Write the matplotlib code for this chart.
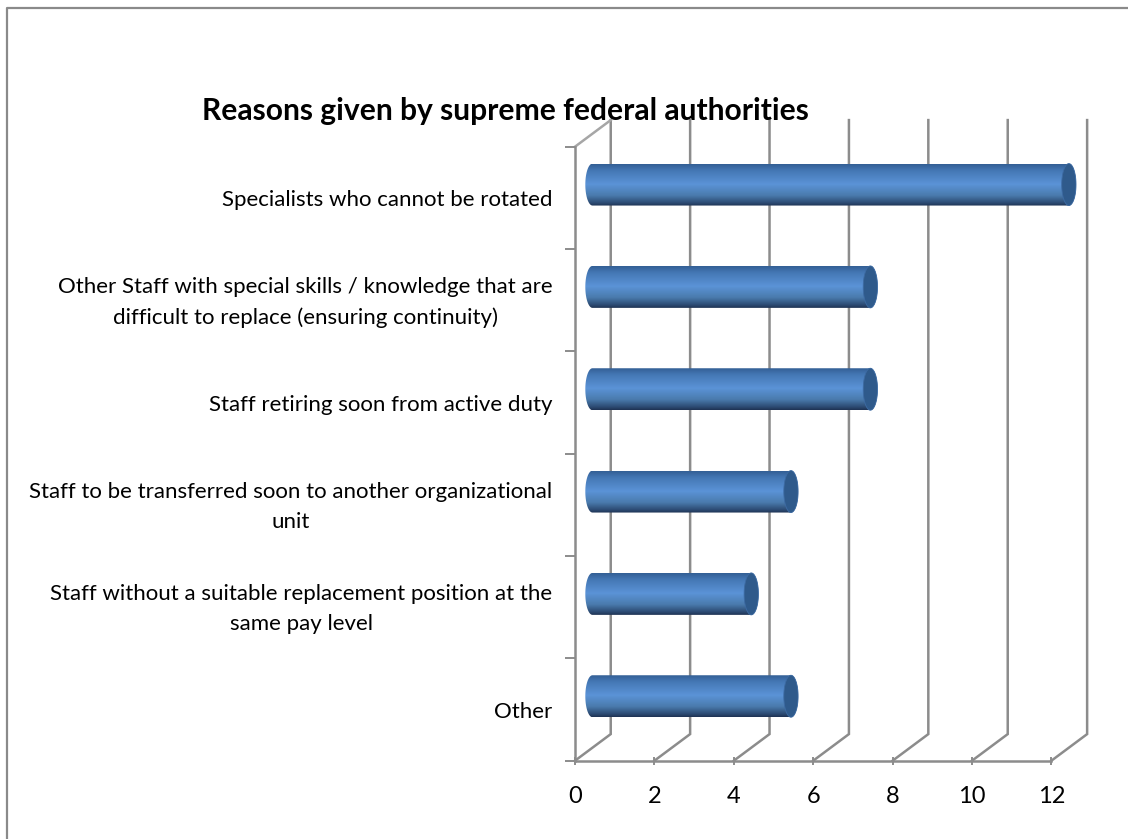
import numpy as np
import matplotlib
matplotlib.use("Agg")
import matplotlib.pyplot as plt
from matplotlib.colors import LinearSegmentedColormap
from matplotlib.patches import Polygon

W, H = 1128, 839

title = "Reasons given by supreme federal authorities"
categories = [
    "Specialists who cannot be rotated",
    "Other Staff with special skills / knowledge that are\ndifficult to replace (ensuring continuity)",
    "Staff retiring soon from active duty",
    "Staff to be transferred soon to another organizational\nunit",
    "Staff without a suitable replacement position at the\nsame pay level",
    "Other",
]
values = [12, 7, 7, 5, 4, 5]
xticks = [0, 2, 4, 6, 8, 10, 12]

GRID = "#8c8c8c"
# floor depth of the pseudo-3D box, in data units
DEPTH_X = 0.90
DEPTH_Y = 0.26
CAP_W = 0.18
BAR_H = 0.41

plt.rcParams["font.family"] = ["Lato", "DejaVu Sans"]

fig = plt.figure(figsize=(W / 100, H / 100), dpi=100)

# chart frame is open on the right and at the bottom edge of the page
frame_x = [6.5 / W, 6.5 / W, 1 + 2 / W]
frame_y = [0 - 2 / H, 1 - 8 / H, 1 - 8 / H]
fig.add_artist(plt.Line2D(frame_x, frame_y, color="#8a8a8a", lw=1.6, transform=fig.transFigure))

ax = fig.add_axes([575 / W, 1 - 760.7 / H, 476.4 / W, 614 / H])
ax.patch.set_alpha(0)
for s in ["top", "right"]:
    ax.spines[s].set_visible(False)
for s in ["left", "bottom"]:
    ax.spines[s].set_color(GRID)
    ax.spines[s].set_linewidth(1.8)

ax.set_xticks(xticks)
ax.set_yticks(range(7))
ax.set_yticklabels([])
ax.tick_params(axis="x", length=6, width=1.4, color=GRID, labelsize=17, pad=15, direction="inout")
ax.tick_params(axis="y", length=7, width=1.4, color=GRID, direction="out")

# back wall gridlines and their floor returns
for t in xticks:
    ax.plot([t, t + DEPTH_X, t + DEPTH_X], [6, 6 - DEPTH_Y, -DEPTH_Y], color=GRID, lw=1.8,
            clip_on=False, zorder=1, solid_joinstyle="miter")
ax.plot([0, DEPTH_X], [0, -DEPTH_Y], color="#a6a6a6", lw=1.8, clip_on=False, zorder=1)

body = LinearSegmentedColormap.from_list("bar", [
    (0.0, "#335f95"), (0.15, "#4477b4"), (0.48, "#5b93d7"),
    (0.75, "#4a7bad"), (0.93, "#2c4a72"), (1.0, "#1f3354"),
])
gradient = np.linspace(0, 1, 128).reshape(-1, 1)
theta = np.linspace(-np.pi / 2, np.pi / 2, 40)

for i, v in enumerate(values):
    yc = i + 0.5 - DEPTH_Y / 2
    x0 = DEPTH_X / 2 - 0.01
    x1 = x0 + v
    # cylinder outline: rounded at the far end, bulging at the near end
    right_x = x1 + CAP_W * np.cos(theta)
    right_y = yc + BAR_H / 2 * np.sin(theta)
    left_x = x0 - CAP_W * np.cos(theta[::-1])
    left_y = yc + BAR_H / 2 * np.sin(theta[::-1])
    outline = np.column_stack([np.r_[right_x, left_x], np.r_[right_y, left_y]])
    im = ax.imshow(gradient, extent=[x0 - CAP_W, x1 + CAP_W, yc + BAR_H / 2, yc - BAR_H / 2],
                   cmap=body, aspect="auto", zorder=3, interpolation="bilinear")
    clip = Polygon(outline, closed=True, transform=ax.transData, fc="none", ec="none", clip_on=False)
    ax.add_patch(clip)
    im.set_clip_box(fig.bbox)
    im.set_clip_path(clip)
    t = np.linspace(0, 2 * np.pi, 80)
    ax.add_patch(Polygon(np.column_stack([x1 + CAP_W * np.cos(t), yc + BAR_H / 2 * np.sin(t)]),
                         closed=True, fc="#2f5a8b", ec="#3d6ba3", lw=0.6, zorder=4, clip_on=False))
    ax.text(-0.57, i + 0.5 + 0.02, categories[i], ha="right", ma="center",
            va="center", fontsize=16, linespacing=1.62, color="black", zorder=5)

ax.set_xlim(0, 12)
ax.set_ylim(6, 0)

fig.text(505 / W, 1 - 111 / H, title, ha="center", va="center", fontsize=21.6, fontweight="bold", color="black")

fig.savefig("out.png", dpi=100, facecolor="white")
